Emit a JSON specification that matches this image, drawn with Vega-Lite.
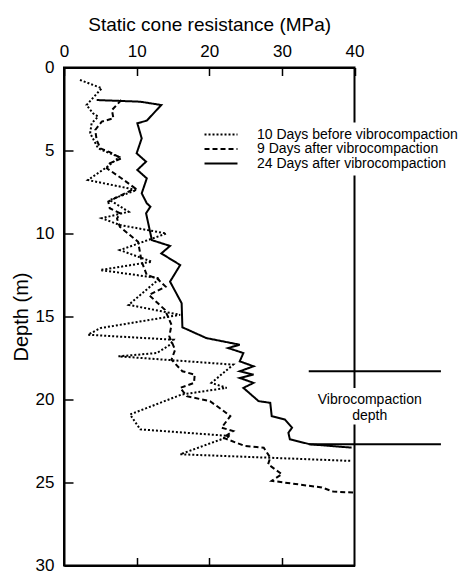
{
  "$schema": "https://vega.github.io/schema/vega-lite/v6.json",
  "autosize": {"type": "none"},
  "padding": {"left": 64, "top": 67.5, "right": 112.5, "bottom": 6.5},
  "width": 290.5,
  "height": 498,
  "background": "white",
  "config": {
    "font": "Liberation Sans",
    "view": {"stroke": "black", "strokeWidth": 2},
    "axis": {"domainColor": "black", "domainWidth": 2, "tickColor": "black", "tickWidth": 1.5, "labelColor": "black", "titleColor": "black", "grid": false, "labelFont": "Liberation Sans", "titleFont": "Liberation Sans", "titleFontWeight": "normal"}
  },
  "datasets": {
    "cpt": [
      {"s": "10 Days before vibrocompaction", "i": 1, "q": 2.2, "d": 0.75},
      {"s": "10 Days before vibrocompaction", "i": 2, "q": 5.2, "d": 1.25},
      {"s": "10 Days before vibrocompaction", "i": 3, "q": 3.1, "d": 2.26},
      {"s": "10 Days before vibrocompaction", "i": 4, "q": 4.0, "d": 2.76},
      {"s": "10 Days before vibrocompaction", "i": 5, "q": 4.7, "d": 2.96},
      {"s": "10 Days before vibrocompaction", "i": 6, "q": 3.8, "d": 3.36},
      {"s": "10 Days before vibrocompaction", "i": 7, "q": 3.6, "d": 3.96},
      {"s": "10 Days before vibrocompaction", "i": 8, "q": 4.7, "d": 4.87},
      {"s": "10 Days before vibrocompaction", "i": 9, "q": 7.6, "d": 5.4},
      {"s": "10 Days before vibrocompaction", "i": 10, "q": 5.9, "d": 6.0},
      {"s": "10 Days before vibrocompaction", "i": 11, "q": 3.3, "d": 6.78},
      {"s": "10 Days before vibrocompaction", "i": 12, "q": 10.0, "d": 7.38},
      {"s": "10 Days before vibrocompaction", "i": 13, "q": 6.3, "d": 7.98},
      {"s": "10 Days before vibrocompaction", "i": 14, "q": 8.9, "d": 8.69},
      {"s": "10 Days before vibrocompaction", "i": 15, "q": 5.2, "d": 9.08},
      {"s": "10 Days before vibrocompaction", "i": 16, "q": 7.7, "d": 9.49},
      {"s": "10 Days before vibrocompaction", "i": 17, "q": 14.1, "d": 10.0},
      {"s": "10 Days before vibrocompaction", "i": 18, "q": 7.7, "d": 11.0},
      {"s": "10 Days before vibrocompaction", "i": 19, "q": 12.1, "d": 11.7},
      {"s": "10 Days before vibrocompaction", "i": 20, "q": 5.0, "d": 12.2},
      {"s": "10 Days before vibrocompaction", "i": 21, "q": 13.2, "d": 12.7},
      {"s": "10 Days before vibrocompaction", "i": 22, "q": 8.9, "d": 14.3},
      {"s": "10 Days before vibrocompaction", "i": 23, "q": 16.0, "d": 14.9},
      {"s": "10 Days before vibrocompaction", "i": 24, "q": 5.0, "d": 15.7},
      {"s": "10 Days before vibrocompaction", "i": 25, "q": 3.3, "d": 16.1},
      {"s": "10 Days before vibrocompaction", "i": 26, "q": 15.1, "d": 16.4},
      {"s": "10 Days before vibrocompaction", "i": 27, "q": 14.6, "d": 16.7},
      {"s": "10 Days before vibrocompaction", "i": 28, "q": 12.8, "d": 17.2},
      {"s": "10 Days before vibrocompaction", "i": 29, "q": 7.5, "d": 17.4},
      {"s": "10 Days before vibrocompaction", "i": 30, "q": 23.3, "d": 17.9},
      {"s": "10 Days before vibrocompaction", "i": 31, "q": 20.3, "d": 19.0},
      {"s": "10 Days before vibrocompaction", "i": 32, "q": 22.4, "d": 19.3},
      {"s": "10 Days before vibrocompaction", "i": 33, "q": 16.2, "d": 19.7},
      {"s": "10 Days before vibrocompaction", "i": 34, "q": 9.1, "d": 20.9},
      {"s": "10 Days before vibrocompaction", "i": 35, "q": 9.4, "d": 21.1},
      {"s": "10 Days before vibrocompaction", "i": 36, "q": 10.5, "d": 21.8},
      {"s": "10 Days before vibrocompaction", "i": 37, "q": 22.9, "d": 22.2},
      {"s": "10 Days before vibrocompaction", "i": 38, "q": 16.0, "d": 23.3},
      {"s": "10 Days before vibrocompaction", "i": 39, "q": 39.6, "d": 23.7},
      {"s": "9 Days after vibrocompaction", "i": 1, "q": 7.9, "d": 1.96},
      {"s": "9 Days after vibrocompaction", "i": 2, "q": 6.6, "d": 2.56},
      {"s": "9 Days after vibrocompaction", "i": 3, "q": 6.8, "d": 3.06},
      {"s": "9 Days after vibrocompaction", "i": 4, "q": 5.2, "d": 3.26},
      {"s": "9 Days after vibrocompaction", "i": 5, "q": 4.3, "d": 3.76},
      {"s": "9 Days after vibrocompaction", "i": 6, "q": 4.5, "d": 4.37},
      {"s": "9 Days after vibrocompaction", "i": 7, "q": 5.0, "d": 4.87},
      {"s": "9 Days after vibrocompaction", "i": 8, "q": 6.3, "d": 5.1},
      {"s": "9 Days after vibrocompaction", "i": 9, "q": 7.9, "d": 5.47},
      {"s": "9 Days after vibrocompaction", "i": 10, "q": 6.3, "d": 5.77},
      {"s": "9 Days after vibrocompaction", "i": 11, "q": 5.9, "d": 6.07},
      {"s": "9 Days after vibrocompaction", "i": 12, "q": 7.9, "d": 6.67},
      {"s": "9 Days after vibrocompaction", "i": 13, "q": 9.8, "d": 7.28},
      {"s": "9 Days after vibrocompaction", "i": 14, "q": 6.1, "d": 8.08},
      {"s": "9 Days after vibrocompaction", "i": 15, "q": 6.3, "d": 8.48},
      {"s": "9 Days after vibrocompaction", "i": 16, "q": 7.7, "d": 8.78},
      {"s": "9 Days after vibrocompaction", "i": 17, "q": 7.3, "d": 9.1},
      {"s": "9 Days after vibrocompaction", "i": 18, "q": 7.7, "d": 9.6},
      {"s": "9 Days after vibrocompaction", "i": 19, "q": 10.2, "d": 10.5},
      {"s": "9 Days after vibrocompaction", "i": 20, "q": 10.7, "d": 11.7},
      {"s": "9 Days after vibrocompaction", "i": 21, "q": 11.4, "d": 12.5},
      {"s": "9 Days after vibrocompaction", "i": 22, "q": 12.8, "d": 12.7},
      {"s": "9 Days after vibrocompaction", "i": 23, "q": 14.0, "d": 13.2},
      {"s": "9 Days after vibrocompaction", "i": 24, "q": 11.7, "d": 13.7},
      {"s": "9 Days after vibrocompaction", "i": 25, "q": 13.9, "d": 14.6},
      {"s": "9 Days after vibrocompaction", "i": 26, "q": 14.8, "d": 15.5},
      {"s": "9 Days after vibrocompaction", "i": 27, "q": 14.5, "d": 16.2},
      {"s": "9 Days after vibrocompaction", "i": 28, "q": 15.3, "d": 17.0},
      {"s": "9 Days after vibrocompaction", "i": 29, "q": 14.8, "d": 17.6},
      {"s": "9 Days after vibrocompaction", "i": 30, "q": 16.3, "d": 18.3},
      {"s": "9 Days after vibrocompaction", "i": 31, "q": 18.0, "d": 18.5},
      {"s": "9 Days after vibrocompaction", "i": 32, "q": 17.9, "d": 19.0},
      {"s": "9 Days after vibrocompaction", "i": 33, "q": 16.0, "d": 19.3},
      {"s": "9 Days after vibrocompaction", "i": 34, "q": 16.9, "d": 19.8},
      {"s": "9 Days after vibrocompaction", "i": 35, "q": 20.1, "d": 20.1},
      {"s": "9 Days after vibrocompaction", "i": 36, "q": 21.7, "d": 20.6},
      {"s": "9 Days after vibrocompaction", "i": 37, "q": 22.9, "d": 21.0},
      {"s": "9 Days after vibrocompaction", "i": 38, "q": 21.7, "d": 21.7},
      {"s": "9 Days after vibrocompaction", "i": 39, "q": 23.3, "d": 21.9},
      {"s": "9 Days after vibrocompaction", "i": 40, "q": 21.9, "d": 22.3},
      {"s": "9 Days after vibrocompaction", "i": 41, "q": 24.9, "d": 22.8},
      {"s": "9 Days after vibrocompaction", "i": 42, "q": 27.5, "d": 22.9},
      {"s": "9 Days after vibrocompaction", "i": 43, "q": 28.4, "d": 23.5},
      {"s": "9 Days after vibrocompaction", "i": 44, "q": 28.1, "d": 23.9},
      {"s": "9 Days after vibrocompaction", "i": 45, "q": 30.0, "d": 24.5},
      {"s": "9 Days after vibrocompaction", "i": 46, "q": 28.6, "d": 24.9},
      {"s": "9 Days after vibrocompaction", "i": 47, "q": 35.5, "d": 25.3},
      {"s": "9 Days after vibrocompaction", "i": 48, "q": 37.1, "d": 25.55},
      {"s": "9 Days after vibrocompaction", "i": 49, "q": 39.8, "d": 25.6},
      {"s": "24 Days after vibrocompaction", "i": 1, "q": 4.5, "d": 1.96},
      {"s": "24 Days after vibrocompaction", "i": 2, "q": 10.5, "d": 2.06},
      {"s": "24 Days after vibrocompaction", "i": 3, "q": 13.4, "d": 2.26},
      {"s": "24 Days after vibrocompaction", "i": 4, "q": 11.4, "d": 3.2},
      {"s": "24 Days after vibrocompaction", "i": 5, "q": 10.1, "d": 3.36},
      {"s": "24 Days after vibrocompaction", "i": 6, "q": 10.7, "d": 4.27},
      {"s": "24 Days after vibrocompaction", "i": 7, "q": 10.0, "d": 5.17},
      {"s": "24 Days after vibrocompaction", "i": 8, "q": 11.3, "d": 5.67},
      {"s": "24 Days after vibrocompaction", "i": 9, "q": 10.1, "d": 6.17},
      {"s": "24 Days after vibrocompaction", "i": 10, "q": 11.4, "d": 6.68},
      {"s": "24 Days after vibrocompaction", "i": 11, "q": 10.7, "d": 7.58},
      {"s": "24 Days after vibrocompaction", "i": 12, "q": 11.4, "d": 8.18},
      {"s": "24 Days after vibrocompaction", "i": 13, "q": 11.9, "d": 8.38},
      {"s": "24 Days after vibrocompaction", "i": 14, "q": 11.3, "d": 8.78},
      {"s": "24 Days after vibrocompaction", "i": 15, "q": 12.1, "d": 10.4},
      {"s": "24 Days after vibrocompaction", "i": 16, "q": 14.6, "d": 10.75},
      {"s": "24 Days after vibrocompaction", "i": 17, "q": 13.4, "d": 11.2},
      {"s": "24 Days after vibrocompaction", "i": 18, "q": 16.0, "d": 11.9},
      {"s": "24 Days after vibrocompaction", "i": 19, "q": 14.6, "d": 12.9},
      {"s": "24 Days after vibrocompaction", "i": 20, "q": 16.2, "d": 14.2},
      {"s": "24 Days after vibrocompaction", "i": 21, "q": 16.3, "d": 15.65},
      {"s": "24 Days after vibrocompaction", "i": 22, "q": 19.6, "d": 16.3},
      {"s": "24 Days after vibrocompaction", "i": 23, "q": 24.2, "d": 16.7},
      {"s": "24 Days after vibrocompaction", "i": 24, "q": 22.6, "d": 16.9},
      {"s": "24 Days after vibrocompaction", "i": 25, "q": 24.7, "d": 17.2},
      {"s": "24 Days after vibrocompaction", "i": 26, "q": 24.2, "d": 17.7},
      {"s": "24 Days after vibrocompaction", "i": 27, "q": 26.1, "d": 18.0},
      {"s": "24 Days after vibrocompaction", "i": 28, "q": 24.2, "d": 18.3},
      {"s": "24 Days after vibrocompaction", "i": 29, "q": 26.1, "d": 18.5},
      {"s": "24 Days after vibrocompaction", "i": 30, "q": 24.2, "d": 18.7},
      {"s": "24 Days after vibrocompaction", "i": 31, "q": 26.1, "d": 19.0},
      {"s": "24 Days after vibrocompaction", "i": 32, "q": 24.7, "d": 19.3},
      {"s": "24 Days after vibrocompaction", "i": 33, "q": 26.8, "d": 20.1},
      {"s": "24 Days after vibrocompaction", "i": 34, "q": 28.4, "d": 20.2},
      {"s": "24 Days after vibrocompaction", "i": 35, "q": 28.6, "d": 21.0},
      {"s": "24 Days after vibrocompaction", "i": 36, "q": 30.4, "d": 21.2},
      {"s": "24 Days after vibrocompaction", "i": 37, "q": 31.4, "d": 21.7},
      {"s": "24 Days after vibrocompaction", "i": 38, "q": 30.9, "d": 22.0},
      {"s": "24 Days after vibrocompaction", "i": 39, "q": 31.1, "d": 22.4},
      {"s": "24 Days after vibrocompaction", "i": 40, "q": 33.9, "d": 22.7},
      {"s": "24 Days after vibrocompaction", "i": 41, "q": 39.6, "d": 22.9}
    ],
    "limits": [
      {"d": 18.3, "a": 33.7, "b": 51.9},
      {"d": 22.7, "a": 33.7, "b": 51.9}
    ],
    "labelbox": [
      {"a": 34.6, "b": 49.6, "d1": 19.3, "d2": 21.5}
    ],
    "labels": [
      {"t": "Vibrocompaction", "q": 42.1, "d": 20.0},
      {"t": "depth", "q": 42.1, "d": 21.0}
    ]
  },
  "layer": [
    {
      "data": {"name": "cpt"},
      "mark": {"type": "line", "color": "black", "strokeWidth": 2, "strokeCap": "butt"},
      "encoding": {
        "x": {"field": "q", "type": "quantitative", "scale": {"domain": [0, 40], "nice": false},
          "axis": {"orient": "top", "values": [0, 10, 20, 30, 40], "title": "Static cone resistance (MPa)", "titleFontSize": 19, "titlePadding": 8, "labelFontSize": 17, "tickSize": -8, "labelPadding": 15, "labelFlush": false}},
        "y": {"field": "d", "type": "quantitative", "scale": {"domain": [0, 30], "nice": false, "reverse": true},
          "axis": {"values": [0, 5, 10, 15, 20, 25, 30], "title": "Depth (m)", "titleFontSize": 20, "titlePadding": 4, "labelFontSize": 17, "tickSize": -9, "labelPadding": 19, "labelFlush": false}},
        "strokeDash": {"field": "s", "type": "nominal",
          "scale": {"domain": ["10 Days before vibrocompaction", "9 Days after vibrocompaction", "24 Days after vibrocompaction"], "range": [[2, 2], [5, 3], [1, 0]]},
          "legend": {"title": null, "orient": "none", "legendX": 145, "legendY": 55, "fillColor": "white", "padding": 5, "labelFontSize": 14, "labelColor": "black", "labelOffset": 29, "labelLimit": 400, "symbolType": "M-4,0H4", "symbolSize": 68, "symbolStrokeWidth": 2, "symbolStrokeColor": "black", "rowPadding": 0.5, "labelFont": "Liberation Sans"}},
        "order": {"field": "i", "type": "quantitative"}
      }
    },
    {
      "data": {"name": "limits"},
      "mark": {"type": "rule", "color": "black", "strokeWidth": 2},
      "encoding": {
        "x": {"field": "a", "type": "quantitative", "axis": {"orient": "bottom", "values": [10, 20, 30], "labels": false, "title": null, "tickSize": -8}},
        "x2": {"field": "b"},
        "y": {"field": "d", "type": "quantitative", "axis": null}
      }
    },
    {
      "data": {"name": "labelbox"},
      "mark": {"type": "rect", "color": "white"},
      "encoding": {
        "x": {"field": "a", "type": "quantitative", "axis": null},
        "x2": {"field": "b"},
        "y": {"field": "d1", "type": "quantitative", "axis": null},
        "y2": {"field": "d2"}
      }
    },
    {
      "data": {"name": "labels"},
      "mark": {"type": "text", "color": "black", "fontSize": 14, "font": "Liberation Sans", "align": "center", "baseline": "middle"},
      "encoding": {
        "x": {"field": "q", "type": "quantitative", "axis": null},
        "y": {"field": "d", "type": "quantitative", "axis": null},
        "text": {"field": "t"}
      }
    }
  ],
  "resolve": {"axis": {"x": "independent", "y": "independent"}}
}
